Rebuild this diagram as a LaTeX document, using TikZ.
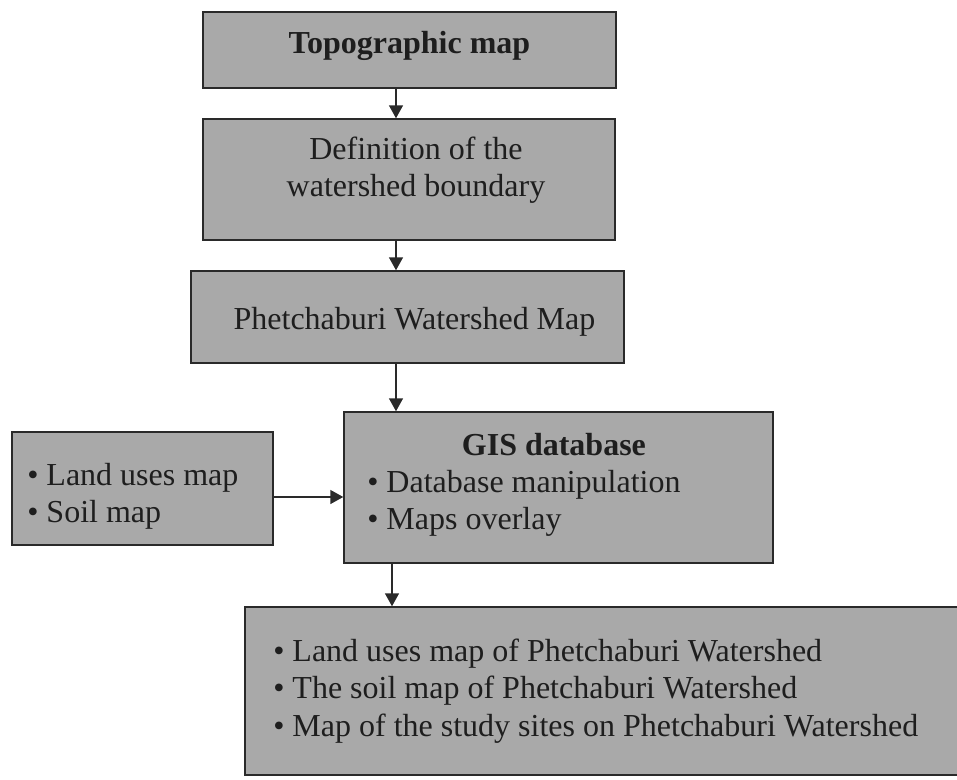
\documentclass[tikz,border=0pt]{standalone}
\usepackage{fontspec}
\setmainfont{Liberation Serif}
\usepackage{tikz}
\usetikzlibrary{arrows.meta}
\definecolor{BoxGray}{HTML}{A9A9A9}
\definecolor{EdgeColor}{HTML}{2A2A2A}
\definecolor{TextColor}{HTML}{1E1E1E}

\begin{document}
\begin{tikzpicture}[x=0.75pt,y=-0.75pt,
	box/.style={draw=EdgeColor, fill=BoxGray, line width=1.1pt, inner sep=0pt},
	boxtext/.style={inner sep=0pt, text=TextColor, font=\fontsize{24}{28}\selectfont},
	flow/.style={-{Triangle[length=9.75pt,width=10.5pt]}, line width=1.1pt, draw=EdgeColor}]
	\clip (0,0) rectangle (957,779);
	\fill[white] (0,0) rectangle (957,779);

	% Main chain
	\node[box, minimum width=309.75pt, minimum height=57pt] (topo) at (409.5,50) {};
	\node[boxtext, font=\bfseries\fontsize{24}{28}\selectfont, anchor=base] (topo-text) at (409.5,53) {Topographic map};

	\node[box, minimum width=309pt, minimum height=90.75pt] (bound) at (409,179.5) {};
	\node[boxtext, align=center] (bound-text) at (416,170) {Definition of the\\watershed boundary};

	\node[box, minimum width=324.75pt, minimum height=69pt] (wsmap) at (407.5,317) {};
	\node[boxtext, anchor=base] (wsmap-text) at (414.5,329) {Phetchaburi Watershed Map};

	% GIS step and its extra input
	\node[box, minimum width=321.75pt, minimum height=113.25pt] (gis) at (558.5,487.5) {};
	\node[boxtext, align=left, anchor=west] (gis-text) at (367,485) {\hspace*{71pt}\textbf{GIS database}\\• Database manipulation\\• Maps overlay};

	\node[box, minimum width=195.75pt, minimum height=84.75pt] (inputs) at (142.5,488.5) {};
	\node[boxtext, align=left, anchor=west] (inputs-text) at (27,496) {• Land uses map\\• Soil map};

	% Results
	\node[box, minimum width=537.75pt, minimum height=126pt] (outputs) at (603.5,691) {};
	\node[boxtext, align=left, anchor=west] (outputs-text) at (273,691) {%
		• Land uses map of Phetchaburi Watershed\\
		• The soil map of Phetchaburi Watershed\\
		• Map of the study sites on Phetchaburi Watershed};

	% Connectors
	\coordinate (spine) at (396,0);
	\coordinate (spineb) at (392,0);
	\coordinate (feed) at (0,497);
	\draw[flow] (topo.south -| spine) -- (bound.north -| spine);
	\draw[flow] (bound.south -| spine) -- (wsmap.north -| spine);
	\draw[flow] (wsmap.south -| spine) -- (gis.north -| spine);
	\draw[flow] (inputs.east |- feed) -- (gis.west |- feed);
	\draw[flow] (gis.south -| spineb) -- (outputs.north -| spineb);
\end{tikzpicture}
\end{document}
